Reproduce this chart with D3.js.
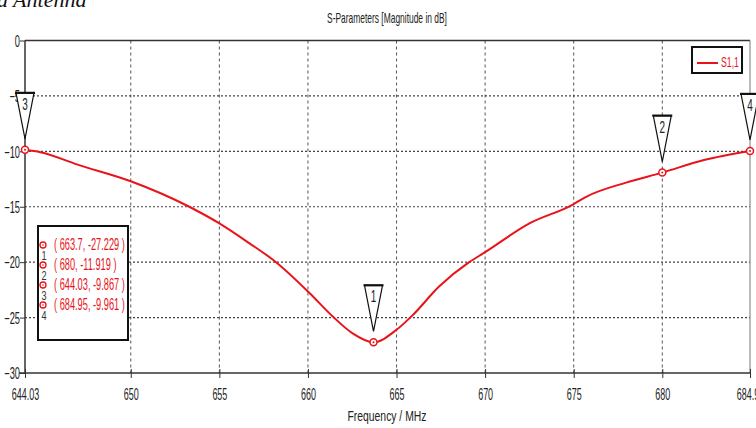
<!DOCTYPE html>
<html><head><meta charset="utf-8">
<script src="https://cdn.jsdelivr.net/npm/d3@7"></script>
<style>
html,body{margin:0;padding:0;background:#fff;overflow:hidden}
svg{display:block}
.f{font-family:"Liberation Sans",Arial,sans-serif}
</style></head><body>
<svg id="c" width="756" height="428"></svg>
<script>
// ---- data ----
const freq = [644.03, 644.9, 647, 650, 653.3, 655, 656.7, 658.2, 660.1, 661.4, 662.5, 663.7, 665, 665.9, 667.4, 669.1, 670, 672.5, 674.9, 675.7, 678, 680, 682.3, 684.95];
const s11  = [-9.867, -10.08, -11.2, -12.7, -15.0, -16.5, -18.3, -20.0, -22.8, -24.9, -26.4, -27.229, -26.1, -24.8, -22.2, -20.0, -19.1, -16.5, -14.85, -14.1, -12.8, -11.919, -10.8, -9.961];
const markerIds = ["1", "2", "3", "4"];
const markerF = [663.7, 680, 644.03, 684.95];
const markerV = [-27.229, -11.919, -9.867, -9.961];
const markerLabels = ["( 663.7, -27.229 )", "( 680, -11.919 )", "( 644.03, -9.867 )", "( 684.95, -9.961 )"];
const xTicks = [644.03, 650, 655, 660, 665, 670, 675, 680, 684.95];
const xTickLabels = ["644.03", "650", "655", "660", "665", "670", "675", "680", "684.95"];
const yTicks = [0, -5, -10, -15, -20, -25, -30];
const seriesName = "S1,1";
const title = "S-Parameters [Magnitude in dB]";
const xTitle = "Frequency / MHz";
const topCaption = "a Antenna";

const svg = d3.select("#c");
const L = 25, R = 750, T = 40.5, B = 373;
const x = d3.scaleLinear().domain([644.03, 684.95]).range([L, R]);
const y = d3.scaleLinear().domain([-30, 0]).range([B, T]);
const red = "#e8131b";

// horizontally condense a text around its own x anchor
function condense(sel, k) {
  sel.each(function () {
    const t = d3.select(this);
    const ax = +(t.attr("x") || 0);
    t.attr("transform", `translate(${ax},0) scale(${k},1) translate(${-ax},0)`);
  });
  return sel;
}
function fitW(sel, w) {
  const n = sel.node().getComputedTextLength();
  return condense(sel, w / n);
}

// caption clipped at top
svg.append("text").attr("x", -3).attr("y", 7).attr("font-family", "Liberation Serif, serif")
  .attr("font-style", "italic").attr("font-size", 22).attr("fill", "#111").text(topCaption);

// title
fitW(svg.append("text").attr("class", "f").attr("x", 387).attr("y", 23).attr("text-anchor", "middle")
  .attr("font-size", 14).attr("fill", "#222").text(title), 120);

// grid
const g = svg.append("g");
g.selectAll(".vg").data(xTicks.slice(1, -1)).join("line")
  .attr("x1", d => x(d)).attr("x2", d => x(d)).attr("y1", T).attr("y2", B)
  .attr("stroke", "#555").attr("stroke-width", 1).attr("stroke-dasharray", "3,3");
g.selectAll(".hg").data(yTicks.slice(1, -1)).join("line")
  .attr("x1", L).attr("x2", R).attr("y1", d => y(d)).attr("y2", d => y(d))
  .attr("stroke", "#444").attr("stroke-width", 1.2).attr("stroke-dasharray", "2,2");

// frame
svg.append("line").attr("x1", L).attr("x2", R).attr("y1", T).attr("y2", T).attr("stroke", "#333").attr("stroke-width", 1.5);
svg.append("line").attr("x1", R).attr("x2", R).attr("y1", T).attr("y2", B).attr("stroke", "#777").attr("stroke-width", 1);

// axes
const xAxis = d3.axisBottom(x).tickValues(xTicks).tickFormat((d, i) => xTickLabels[i]).tickSize(5).tickPadding(8);
const xa = svg.append("g").attr("transform", `translate(0,${B})`).call(xAxis);
xa.select(".domain").attr("stroke", "#333").attr("stroke-width", 1.5).attr("d", `M${L - 6},0H${R}`);
xa.selectAll(".tick line").attr("stroke", "#333").attr("y1", -4);
xa.selectAll("text").attr("class", "f").attr("font-size", 16).attr("fill", "#222").attr("font-family", null)
  .attr("dy", null).attr("y", 27);
condense(xa.selectAll("text"), 0.56);

const yAxis = d3.axisLeft(y).tickValues(yTicks).tickFormat(d3.format("d")).tickSize(5).tickPadding(3);
const ya = svg.append("g").attr("transform", `translate(${L},0)`).call(yAxis);
ya.select(".domain").attr("stroke", "#333").attr("stroke-width", 1.5).attr("d", `M0,${T}V${B}`);
ya.selectAll(".tick line").attr("stroke", "#333");
ya.selectAll("text").attr("class", "f").attr("font-size", 16).attr("fill", "#222").attr("font-family", null)
  .attr("x", -5).attr("dy", "0.36em");
condense(ya.selectAll("text"), 0.58);

// x title
fitW(svg.append("text").attr("class", "f").attr("x", 387).attr("y", 421).attr("text-anchor", "middle")
  .attr("font-size", 15.5).attr("fill", "#222").text(xTitle), 79);

// curve
const line = d3.line().x((d, i) => x(freq[i])).y(d => y(d)).curve(d3.curveMonotoneX);
svg.append("path").datum(s11).attr("d", line).attr("fill", "none").attr("stroke", red).attr("stroke-width", 2);

// marker circles + flags
markerF.forEach((f, i) => {
  const cx = x(f), cy = y(markerV[i]);
  svg.append("circle").attr("cx", cx).attr("cy", cy).attr("r", 3.5).attr("fill", "#fff").attr("stroke", red).attr("stroke-width", 1.5);
  svg.append("circle").attr("cx", cx).attr("cy", cy).attr("r", 1).attr("fill", red);
  const tip = cy - 11, top = tip - 46, hw = 9;
  svg.append("path").attr("d", `M${cx - hw},${top}L${cx + hw},${top}L${cx},${tip}Z`)
    .attr("fill", "#fff").attr("stroke", "#111").attr("stroke-width", 1.2);
  svg.append("line").attr("x1", cx - hw - 1).attr("x2", cx + hw + 1).attr("y1", top).attr("y2", top).attr("stroke", "#111").attr("stroke-width", 2.2);
  condense(svg.append("text").attr("class", "f").attr("x", cx).attr("y", top + 17).attr("text-anchor", "middle")
    .attr("font-size", 16).attr("fill", "#222").text(markerIds[i]), 0.62);
});

// marker value box
const bx = 38, by = 226, bw = 90, bh = 114;
svg.append("rect").attr("x", bx).attr("y", by).attr("width", bw).attr("height", bh)
  .attr("fill", "#fff").attr("stroke", "#111").attr("stroke-width", 2);
let kBox = null;
markerLabels.forEach((t, i) => {
  const ry = 245 + i * 20;
  svg.append("circle").attr("cx", 43).attr("cy", ry).attr("r", 3).attr("fill", "#fff").attr("stroke", red).attr("stroke-width", 1.3);
  svg.append("circle").attr("cx", 43).attr("cy", ry).attr("r", 0.8).attr("fill", red);
  condense(svg.append("text").attr("class", "f").attr("x", 44).attr("y", ry + 15).attr("text-anchor", "middle")
    .attr("font-size", 13).attr("fill", "#333").text(markerIds[i]), 0.7);
  const tx = svg.append("text").attr("class", "f").attr("x", 54).attr("y", ry + 5.5)
    .attr("font-size", 16).attr("fill", red).text(t);
  if (kBox === null) kBox = 71 / tx.node().getComputedTextLength();
  condense(tx, kBox);
});

// legend
svg.append("rect").attr("x", 692).attr("y", 47).attr("width", 50).attr("height", 26)
  .attr("fill", "#fff").attr("stroke", "#111").attr("stroke-width", 2);
svg.append("line").attr("x1", 697).attr("x2", 718).attr("y1", 63).attr("y2", 63).attr("stroke", red).attr("stroke-width", 2);
fitW(svg.append("text").attr("class", "f").attr("x", 721).attr("y", 67).attr("font-size", 14).attr("fill", red).text(seriesName), 18);
</script>
</body></html>
